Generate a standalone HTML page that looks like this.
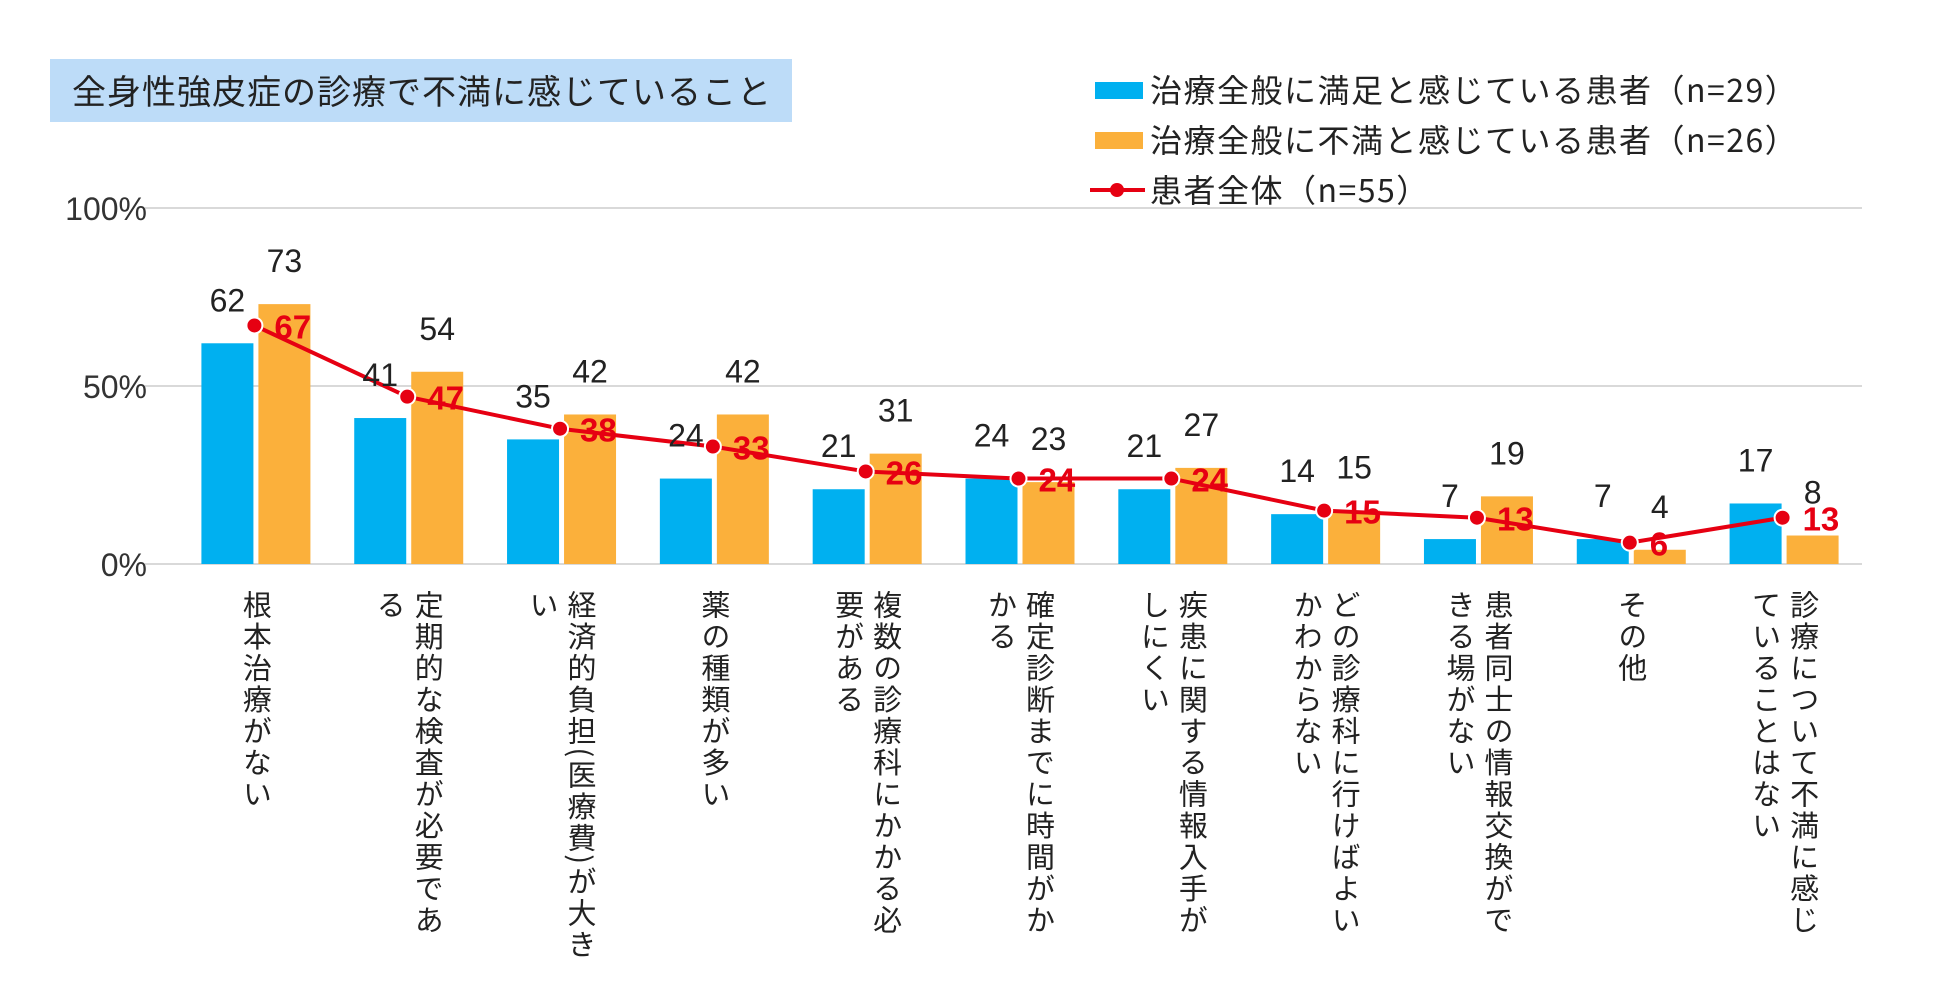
<!DOCTYPE html>
<html><head><meta charset="utf-8"><style>
html,body{margin:0;padding:0;background:#fff;}
body{width:1950px;height:985px;overflow:hidden;position:relative;font-family:"Liberation Sans","Noto Sans CJK JP",sans-serif;}
svg text{font-family:"Liberation Sans","Noto Sans CJK JP",sans-serif;}
.xl{position:absolute;top:590px;writing-mode:vertical-rl;font-family:"Noto Sans CJK JP",sans-serif;font-size:29px;line-height:38px;letter-spacing:2.5px;color:#222;transform:translateX(-50%);white-space:nowrap;}
</style></head><body>
<svg id="chart" width="1950" height="985" style="position:absolute;left:0;top:0">
<rect x="50" y="59" width="742" height="63" fill="#bddcf8"/>
<text x="72" y="104" font-size="34" fill="#222" style="font-family:'Noto Sans CJK JP',sans-serif;letter-spacing:1px">全身性強皮症の診療で不満に感じていること</text>
<g>
<rect x="1095" y="82" width="48" height="17" fill="#00b0f0"/>
<text x="1150" y="102" font-size="32" fill="#222" style="font-family:'Noto Sans CJK JP',sans-serif;letter-spacing:1.5px">治療全般に満足と感じている患者（n=29）</text>
<rect x="1095" y="132" width="48" height="17" fill="#fbb03b"/>
<text x="1150" y="152" font-size="32" fill="#222" style="font-family:'Noto Sans CJK JP',sans-serif;letter-spacing:1.5px">治療全般に不満と感じている患者（n=26）</text>
<line x1="1090" y1="190" x2="1145" y2="190" stroke="#e60012" stroke-width="4"/>
<circle cx="1117" cy="190" r="7" fill="#e60012"/>
<text x="1150" y="202" font-size="32" fill="#222" style="font-family:'Noto Sans CJK JP',sans-serif;letter-spacing:1.5px">患者全体（n=55）</text>
</g>
<g id="grid"></g><g id="bars"></g><g id="line"></g><g id="labels"></g>
</svg>
<div id="xlabels"></div>
<script>
const categories=[["根本治療がない"],["定期的な検査が必要であ","る"],["経済的負担(医療費)が大き","い"],["薬の種類が多い"],["複数の診療科にかかる必","要がある"],["確定診断までに時間がか","かる"],["疾患に関する情報入手が","しにくい"],["どの診療科に行けばよい","かわからない"],["患者同士の情報交換がで","きる場がない"],["その他"],["診療について不満に感じ","ていることはない"]];
const satisfied=[62,41,35,24,21,24,21,14,7,7,17];
const dissatisfied=[73,54,42,42,31,23,27,15,19,4,8];
const total=[67,47,38,33,26,24,24,15,13,6,13];
const yTicks=[0,50,100];
const yTickLabels=["0%","50%","100%"];

const NS="http://www.w3.org/2000/svg";
const X0=181,X1=1862,Y0=564,Y100=208;
const step=(X1-X0)/categories.length;
const cx=i=>X0+step*(i+0.5);
const y=v=>Y0-(Y0-Y100)*v/100;
function mk(tag,attrs,parent){const e=document.createElementNS(NS,tag);for(const k in attrs)e.setAttribute(k,attrs[k]);document.getElementById(parent).appendChild(e);return e;}

yTicks.forEach((t,i)=>{
 const g=mk('line',{x1:X0-36,x2:X1,y1:y(t),y2:y(t),stroke:'#d9d9d9','stroke-width':2},'grid');
 
 
 const tx=mk('text',{x:147,y:y(t)+12,'text-anchor':'end','font-size':32,fill:'#333'},'grid');
 tx.textContent=yTickLabels[i];
 
 
});

categories.forEach((c,i)=>{
 const c0=cx(i);
 const b=mk('rect',{x:c0-56,y:y(satisfied[i]),width:52,height:Y0-y(satisfied[i]),fill:'#00b0f0'},'bars');
 
 
 const o=mk('rect',{x:c0+1,y:y(dissatisfied[i]),width:52,height:Y0-y(dissatisfied[i]),fill:'#fbb03b'},'bars');
 
 
 const l1=mk('text',{x:c0-30,y:y(satisfied[i])-32,'text-anchor':'middle','font-size':32,fill:'#222'},'labels');
 l1.textContent=satisfied[i];
 
 
 const l2=mk('text',{x:c0+27,y:y(dissatisfied[i])-32,'text-anchor':'middle','font-size':32,fill:'#222'},'labels');
 l2.textContent=dissatisfied[i];
 
 
 const d=document.createElement('div');
 d.className='xl';
 d.style.left=c0+'px';
 d.innerHTML=c.join('<br>');
 
 
 document.getElementById('xlabels').appendChild(d);
});

const pts=total.map((v,i)=>cx(i)-3+','+y(v)).join(' ');
const pl=mk('polyline',{points:pts,fill:'none',stroke:'#e60012','stroke-width':4,'stroke-linejoin':'round'},'line');


total.forEach((v,i)=>{
 const m=mk('circle',{cx:cx(i)-3,cy:y(v),r:8,fill:'#e60012',stroke:'#fff','stroke-width':2},'line');
 
 
 const t=mk('text',{x:cx(i)+17,y:y(v)+13,'font-size':33,'font-weight':'bold',fill:'#e60012'},'labels');
 t.textContent=v;
 
 
});
</script>
</body></html>
